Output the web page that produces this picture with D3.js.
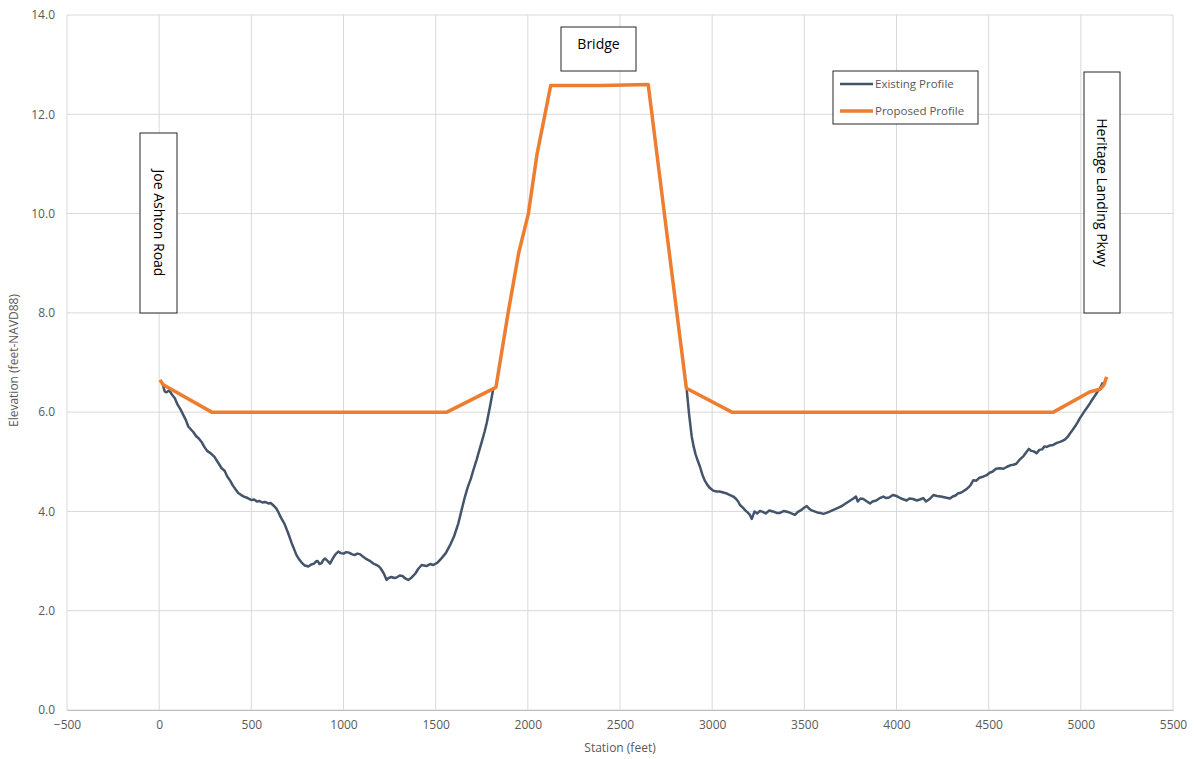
<!DOCTYPE html>
<html>
<head>
<meta charset="utf-8">
<script src="https://cdn.jsdelivr.net/npm/d3@7"></script>
<style>
  body { margin: 0; background: #fff; }
  svg { font-family: "Open Sans", "Noto Sans", sans-serif; }
</style>
</head>
<body>
<svg id="chart" width="1194" height="759"></svg>
<script>
// Existing ground profile (station ft, elevation ft); null = gap under bridge
const existingStation = [20, 30, 40, 55, 70, 85, 100, 115, 130, 145, 158, 170, 185, 200, 215, 230, 245, 260, 280, 300, 320, 339, 355, 370, 385, 400, 415, 429, 445, 460, 480, 502, 515, 530, 545, 560, 575, 592, 605, 620, 635, 646, 660, 680, 700, 719, 732, 745, 760, 773, 790, 809, 825, 840, 850, 860, 870, 881, 890, 900, 915, 927, 940, 950, 960, 972, 985, 1000, 1015, 1030, 1045, 1060, 1075, 1089, 1105, 1120, 1140, 1162, 1175, 1190, 1200, 1207, 1220, 1234, 1245, 1260, 1275, 1288, 1305, 1320, 1335, 1351, 1370, 1390, 1405, 1424, 1437, 1450, 1470, 1487, 1510, 1530, 1555, 1578, 1600, 1623, 1640, 1659, 1675, 1690, 1705, 1722, 1735, 1750, 1765, 1777, 1795, 1813,
  2000,
  2862, 2875, 2889, 2900, 2910, 2922, 2934, 2947, 2960, 2975, 2988, 3005, 3024, 3040, 3060, 3080, 3097, 3115, 3130, 3141, 3151, 3165, 3180, 3192, 3205, 3215, 3230, 3245, 3259, 3275, 3290, 3310, 3330, 3350, 3368, 3390, 3410, 3430, 3449, 3465, 3480, 3497, 3513, 3525, 3540, 3555, 3570, 3585, 3603, 3620, 3640, 3658, 3676, 3700, 3720, 3745, 3766, 3780, 3790, 3805, 3820, 3840, 3856, 3870, 3890, 3910, 3928, 3945, 3960, 3980, 4001, 4025, 4055, 4070, 4090, 4110, 4127, 4145, 4160, 4180, 4200, 4220, 4240, 4265, 4290, 4305, 4320, 4332, 4344, 4360, 4380, 4400, 4417, 4433, 4450, 4470, 4489, 4505, 4520, 4540, 4561, 4580, 4600, 4617, 4634, 4650, 4670, 4690, 4706, 4718, 4730, 4745, 4760, 4775, 4790, 4803, 4815, 4833, 4850, 4870, 4887, 4900, 4915, 4928, 4941, 4955, 4970, 4983, 4995, 5008, 5020, 5035, 5050, 5065, 5080, 5092, 5104, 5112, 5120];
const existingElev = [6.55, 6.42, 6.40, 6.44, 6.35, 6.28, 6.15, 6.06, 5.95, 5.84, 5.71, 5.66, 5.60, 5.52, 5.47, 5.40, 5.30, 5.22, 5.17, 5.10, 4.98, 4.87, 4.82, 4.70, 4.62, 4.52, 4.44, 4.37, 4.33, 4.30, 4.27, 4.23, 4.24, 4.20, 4.21, 4.18, 4.19, 4.16, 4.17, 4.12, 4.06, 3.99, 3.88, 3.75, 3.56, 3.36, 3.24, 3.12, 3.03, 2.97, 2.91, 2.89, 2.93, 2.95, 2.99, 3.00, 2.94, 2.96, 3.02, 3.05, 3.00, 2.95, 3.04, 3.10, 3.15, 3.19, 3.16, 3.15, 3.18, 3.17, 3.14, 3.12, 3.15, 3.14, 3.09, 3.05, 3.01, 2.95, 2.93, 2.90, 2.86, 2.82, 2.74, 2.62, 2.66, 2.68, 2.66, 2.67, 2.71, 2.70, 2.65, 2.62, 2.67, 2.75, 2.84, 2.92, 2.91, 2.90, 2.94, 2.92, 2.97, 3.05, 3.16, 3.32, 3.50, 3.76, 4.02, 4.30, 4.50, 4.65, 4.84, 5.04, 5.21, 5.40, 5.60, 5.78, 6.12, 6.48,
  null,
  6.45, 5.95, 5.51, 5.30, 5.15, 5.02, 4.90, 4.74, 4.62, 4.53, 4.47, 4.42, 4.40, 4.40, 4.38, 4.36, 4.33, 4.30, 4.25, 4.20, 4.13, 4.08, 4.02, 3.98, 3.93, 3.85, 4.00, 3.96, 4.01, 3.99, 3.96, 4.02, 4.00, 3.97, 3.97, 4.01, 3.99, 3.96, 3.93, 3.99, 4.02, 4.07, 4.11, 4.06, 4.02, 4.00, 3.98, 3.97, 3.95, 3.97, 4.00, 4.03, 4.06, 4.10, 4.15, 4.21, 4.26, 4.30, 4.20, 4.26, 4.25, 4.20, 4.16, 4.20, 4.22, 4.27, 4.30, 4.27, 4.28, 4.33, 4.31, 4.26, 4.22, 4.26, 4.25, 4.22, 4.24, 4.27, 4.20, 4.25, 4.33, 4.31, 4.30, 4.28, 4.26, 4.30, 4.32, 4.36, 4.37, 4.40, 4.45, 4.52, 4.63, 4.62, 4.68, 4.70, 4.73, 4.78, 4.80, 4.86, 4.87, 4.86, 4.90, 4.93, 4.94, 4.96, 5.05, 5.12, 5.20, 5.26, 5.22, 5.21, 5.17, 5.24, 5.25, 5.31, 5.30, 5.33, 5.34, 5.38, 5.40, 5.42, 5.45, 5.50, 5.57, 5.64, 5.72, 5.80, 5.88, 5.95, 6.02, 6.10, 6.18, 6.27, 6.35, 6.42, 6.48, 6.54, 6.60];

// Proposed profile
const proposedStation = [4, 22, 285, 1561, 1827, 1893, 1950, 2003, 2050, 2093, 2124, 2400, 2653, 2760, 2860, 3107, 4851, 5050, 5104, 5125, 5140];
const proposedElev = [6.65, 6.55, 6.00, 6.00, 6.50, 8.00, 9.20, 10.00, 11.20, 12.00, 12.58, 12.58, 12.60, 9.43, 6.48, 6.00, 6.00, 6.41, 6.46, 6.55, 6.71];

const xTicks = [-500, 0, 500, 1000, 1500, 2000, 2500, 3000, 3500, 4000, 4500, 5000, 5500];
const yTicks = [0, 2, 4, 6, 8, 10, 12, 14];

const seriesNames = ["Existing Profile", "Proposed Profile"];
const seriesColors = ["#44546A", "#ED7D31"];

const calloutLabels = ["Joe Ashton Road", "Bridge", "Heritage Landing Pkwy"];

var svg = d3.select("#chart");
var margin = {left: 67, top: 15, right: 21, bottom: 49};
var width = 1194 - margin.left - margin.right;
var height = 759 - margin.top - margin.bottom;

var x = d3.scaleLinear().domain([-500, 5500]).range([margin.left, margin.left + width]);
var y = d3.scaleLinear().domain([0, 14]).range([margin.top + height, margin.top]);

// gridlines
svg.append("g").selectAll("line")
  .data(xTicks)
  .enter().append("line")
  .attr("x1", d => x(d)).attr("x2", d => x(d))
  .attr("y1", y(0)).attr("y2", y(14))
  .attr("stroke", "#d9d9d9").attr("stroke-width", 1);

svg.append("g").selectAll("line")
  .data(yTicks)
  .enter().append("line")
  .attr("x1", x(-500)).attr("x2", x(5500))
  .attr("y1", d => y(d)).attr("y2", d => y(d))
  .attr("stroke", "#d9d9d9").attr("stroke-width", 1);

// axes
var xAxis = svg.append("g")
  .attr("transform", "translate(0," + y(0) + ")")
  .call(d3.axisBottom(x).tickValues(xTicks).tickSize(0).tickPadding(10).tickFormat(d3.format("d")));
xAxis.select(".domain").attr("stroke", "#bfbfbf");

var yAxis = svg.append("g")
  .attr("transform", "translate(" + x(-500) + ",0)")
  .call(d3.axisLeft(y).tickValues(yTicks).tickSize(0).tickPadding(12).tickFormat(d3.format(".1f")));
yAxis.select(".domain").remove();

svg.selectAll(".tick text")
  .attr("fill", "#595959")
  .style("font-size", "12px")
  .style("font-family", "\"Open Sans\", sans-serif");

// axis titles
svg.append("text")
  .attr("x", (x(-500) + x(5500)) / 2)
  .attr("y", 752)
  .attr("text-anchor", "middle")
  .attr("fill", "#595959")
  .style("font-size", "12px")
  .text("Station (feet)");

svg.append("text")
  .attr("transform", "translate(18," + (y(7) - 2) + ") rotate(-90)")
  .attr("text-anchor", "middle")
  .attr("fill", "#595959")
  .style("font-size", "12px")
  .text("Elevation (feet-NAVD88)");

// lines
var existing = existingStation.map((s, i) => [s, existingElev[i]]);
var proposed = proposedStation.map((s, i) => [s, proposedElev[i]]);

var line = d3.line()
  .defined(d => d[1] != null)
  .x(d => x(d[0]))
  .y(d => y(d[1]));

svg.append("path")
  .datum(existing)
  .attr("d", line)
  .attr("fill", "none")
  .attr("stroke", seriesColors[0])
  .attr("stroke-width", 2.5)
  .attr("stroke-linejoin", "round");

svg.append("path")
  .datum(proposed)
  .attr("d", line)
  .attr("fill", "none")
  .attr("stroke", seriesColors[1])
  .attr("stroke-width", 3.5)
  .attr("stroke-linejoin", "round");

// callout boxes
function callout(label, x0, y0, x1, y1, vertical, ty) {
  var g = svg.append("g");
  g.append("rect")
    .attr("x", x0).attr("y", y0)
    .attr("width", x1 - x0).attr("height", y1 - y0)
    .attr("fill", "#fff")
    .attr("stroke", "#262626")
    .attr("stroke-width", 1);
  var cx = (x0 + x1) / 2, cy = ty || (y0 + y1) / 2;
  g.append("text")
    .attr("transform", "translate(" + cx + "," + cy + ")" + (vertical ? " rotate(90)" : ""))
    .attr("text-anchor", "middle")
    .attr("dy", "0.35em")
    .attr("fill", "#000")
    .style("font-size", "14px")
    .text(label);
}
callout(calloutLabels[0], 140, 133, 177, 313, true);
callout(calloutLabels[1], 561, 27, 636, 71, false, 44);
callout(calloutLabels[2], 1084, 72, 1120, 313, true);

// legend
var legend = svg.append("g");
legend.append("rect")
  .attr("x", 833).attr("y", 71)
  .attr("width", 145).attr("height", 53)
  .attr("fill", "#fff")
  .attr("stroke", "#262626")
  .attr("stroke-width", 1);

seriesNames.forEach(function(name, i) {
  var ly = 84 + i * 27;
  legend.append("line")
    .attr("x1", 840).attr("x2", 873)
    .attr("y1", ly).attr("y2", ly)
    .attr("stroke", seriesColors[i])
    .attr("stroke-width", i == 0 ? 2.5 : 3.5);
  legend.append("text")
    .attr("x", 875).attr("y", ly)
    .attr("dy", "0.35em")
    .attr("fill", "#595959")
    .style("font-size", "11.5px")
    .text(name);
});
</script>
</body>
</html>
